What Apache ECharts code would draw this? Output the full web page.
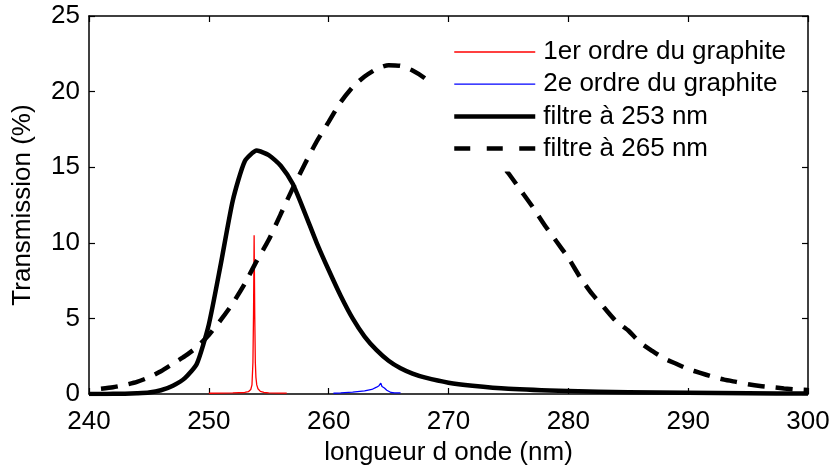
<!DOCTYPE html>
<html>
<head>
<meta charset="utf-8">
<script src="https://cdn.jsdelivr.net/npm/echarts@6/dist/echarts.min.js"></script>
<style>html,body{margin:0;padding:0;background:#fff}#c{width:831px;height:466px}</style>
</head>
<body>
<div id="c"></div>
<script>
// ---- data ----
const xTicks = [240, 250, 260, 270, 280, 290, 300];
const yTicks = [0, 5, 10, 15, 20, 25];

const ordre1X = [250, 251, 252, 253, 253.3, 253.5, 253.6, 253.68, 253.73, 253.76, 253.78, 253.80, 253.83, 253.88, 253.93, 254.0, 254.1, 254.3, 254.6, 255, 256, 256.5];
const ordre1Y = [0.05, 0.06, 0.07, 0.1, 0.15, 0.3, 0.6, 2.1, 5.3, 8.4, 10.5, 8.4, 5.3, 2.1, 1.1, 0.6, 0.35, 0.17, 0.1, 0.08, 0.06, 0.06];

const ordre2X = [260.4, 261, 262, 263, 263.6, 264, 264.2, 264.35, 264.45, 264.55, 264.65, 264.75, 264.85, 265, 265.2, 265.5, 266];
const ordre2Y = [0.05, 0.07, 0.12, 0.2, 0.3, 0.45, 0.55, 0.72, 0.5, 0.42, 0.4, 0.3, 0.25, 0.15, 0.1, 0.08, 0.08];

const f253X = [240, 241, 242, 243, 244, 245, 246, 247, 248, 249, 250, 251, 252, 253, 254, 255, 256, 257, 258, 259, 260, 261, 262, 263, 264, 265, 266, 267, 268, 270, 272, 275, 280, 285, 290, 295, 300];
const f253Y = [0, 0, 0.01, 0.02, 0.05, 0.1, 0.25, 0.55, 1.05, 2.0, 4.6, 8.6, 12.8, 15.4, 16.1, 15.8, 15.1, 13.9, 12.0, 10.0, 8.2, 6.5, 5.0, 3.8, 2.9, 2.2, 1.7, 1.35, 1.1, 0.75, 0.55, 0.35, 0.2, 0.12, 0.08, 0.05, 0.03];

const f265X = [241, 242, 243, 244, 245, 246, 247, 248, 249, 250, 251, 252, 253, 254, 255, 256, 257, 258, 259, 260, 261, 262, 263, 264, 265, 266, 267, 268, 269, 270, 271, 272, 273, 274, 275, 276, 277, 278, 279, 280, 281, 282, 283, 284, 285, 286, 287, 288, 289, 290, 291, 292, 293, 294, 295, 296, 297, 298, 299, 300];
const f265Y = [0.35, 0.45, 0.6, 0.8, 1.1, 1.5, 2.0, 2.5, 3.1, 3.9, 4.9, 6.0, 7.3, 8.8, 10.2, 11.9, 13.6, 15.2, 16.7, 18.0, 19.3, 20.3, 21.0, 21.5, 21.75, 21.7, 21.4, 20.9, 20.2, 19.4, 18.5, 17.6, 16.6, 15.6, 14.6, 13.5, 12.4, 11.2, 10.1, 9.0, 7.7, 6.6, 5.7, 4.8, 4.2, 3.4, 2.85, 2.35, 2.0, 1.65, 1.4, 1.15, 0.95, 0.8, 0.65, 0.53, 0.45, 0.37, 0.3, 0.26];

const names = ['1er ordre du graphite', '2e ordre du graphite', 'filtre à 253 nm', 'filtre à 265 nm'];

// ---- chart ----
const zip = (xs, ys) => xs.map((x, i) => [x, ys[i]]);
const FONT = 'Liberation Sans';
const FS = 26;
const axisCommon = {
  type: 'value',
  splitLine: { show: false },
  axisLine: { show: true, onZero: false, lineStyle: { color: '#000', width: 1.5 } },
  axisTick: { show: true, inside: true, length: 6, lineStyle: { color: '#000', width: 1.2 } }
};
const chart = echarts.init(document.getElementById('c'), null, { renderer: 'canvas' });
chart.setOption({
  animation: false,
  backgroundColor: '#fff',
  textStyle: { fontFamily: FONT },
  grid: { left: 89, right: 23, top: 16, bottom: 72, containLabel: false, outerBoundsMode: 'none' },
  xAxis: [
    Object.assign({}, axisCommon, {
      position: 'bottom', min: xTicks[0], max: xTicks[xTicks.length - 1], interval: xTicks[1] - xTicks[0],
      name: 'longueur d onde (nm)', nameLocation: 'middle', nameGap: 35,
      nameTextStyle: { fontSize: FS, color: '#000', fontFamily: FONT },
      axisLabel: { show: true, margin: 15, fontSize: FS, color: '#000', fontFamily: FONT }
    }),
    Object.assign({}, axisCommon, {
      position: 'top', min: xTicks[0], max: xTicks[xTicks.length - 1], interval: xTicks[1] - xTicks[0],
      axisLabel: { show: false }
    })
  ],
  yAxis: [
    Object.assign({}, axisCommon, {
      position: 'left', min: yTicks[0], max: yTicks[yTicks.length - 1], interval: yTicks[1] - yTicks[0],
      name: 'Transmission (%)', nameLocation: 'middle', nameGap: 53, nameRotate: 90,
      nameTextStyle: { fontSize: FS, color: '#000', fontFamily: FONT },
      axisLabel: { show: true, margin: 9, fontSize: FS, color: '#000', fontFamily: FONT, padding: [6, 0, 0, 0] }
    }),
    Object.assign({}, axisCommon, {
      position: 'right', min: yTicks[0], max: yTicks[yTicks.length - 1], interval: yTicks[1] - yTicks[0],
      axisLabel: { show: false }
    })
  ],
  legend: {
    orient: 'vertical', left: 430, top: 32,
    padding: [7, 15, 10, 22],
    backgroundColor: '#fff',
    itemWidth: 81, itemHeight: 26, itemGap: 6.2,
    itemStyle: { color: 'rgba(0,0,0,0)', borderColor: 'rgba(0,0,0,0)', borderWidth: 0, opacity: 0 },
    textStyle: { fontSize: FS, color: '#000', fontFamily: FONT, lineHeight: 26, padding: [0, 0, 0, 3] },
    data: [
      { name: names[0], lineStyle: { width: 1.3, color: '#ff0000' } },
      { name: names[1], lineStyle: { width: 1.3, color: '#0000ff' } },
      { name: names[2], lineStyle: { width: 4.5, color: '#000' } },
      { name: names[3], lineStyle: { width: 4.5, color: '#000', type: [16, 16.5], cap: 'butt' } }
    ]
  },
  series: [
    { name: names[0], type: 'line', showSymbol: false, symbol: 'none', data: zip(ordre1X, ordre1Y),
      lineStyle: { color: '#ff0000', width: 1.3 }, itemStyle: { color: '#ff0000' } },
    { name: names[1], type: 'line', showSymbol: false, symbol: 'none', data: zip(ordre2X, ordre2Y),
      lineStyle: { color: '#0000ff', width: 1.3 }, itemStyle: { color: '#0000ff' } },
    { name: names[2], type: 'line', showSymbol: false, symbol: 'none', data: zip(f253X, f253Y),
      smooth: 0.2,
      lineStyle: { color: '#000', width: 4.5, join: 'round' }, itemStyle: { color: '#000' } },
    { name: names[3], type: 'line', showSymbol: false, symbol: 'none', data: zip(f265X, f265Y),
      smooth: 0.2,
      lineStyle: { color: '#000', width: 4.5, type: [17, 11], cap: 'butt' }, itemStyle: { color: '#000' } }
  ]
});
</script>
</body>
</html>
